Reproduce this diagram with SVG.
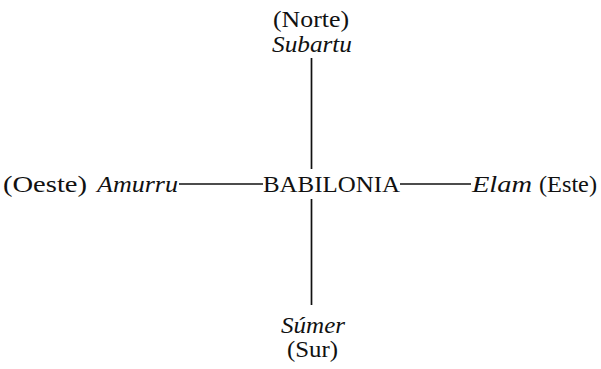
<svg xmlns="http://www.w3.org/2000/svg" width="601" height="369" viewBox="0 0 601 369">
<style>
text{font-family:"Liberation Serif","DejaVu Serif",serif;font-size:24px;fill:#111}
.it{font-style:italic}
.ln{stroke:#111;stroke-width:1.7;fill:none}
</style>
<rect width="601" height="369" fill="#fff"/>
<g id="connectors">
<line class="ln" x1="311.5" y1="58" x2="311.5" y2="169"/>
<line class="ln" x1="311.5" y1="199" x2="311.5" y2="305"/>
<line class="ln" x1="179" y1="184" x2="263" y2="184"/>
<line class="ln" x1="400" y1="184" x2="471" y2="184"/>
</g>
<g id="babilonia"><text x="263" y="192" textLength="137" lengthAdjust="spacingAndGlyphs">BABILONIA</text></g>
<g id="norte"><text x="273" y="27" textLength="76" lengthAdjust="spacingAndGlyphs">(Norte)</text><text class="it" x="272" y="52" textLength="80" lengthAdjust="spacingAndGlyphs">Subartu</text></g>
<g id="oeste"><text x="3" y="192" textLength="84" lengthAdjust="spacingAndGlyphs">(Oeste)</text><text class="it" x="97" y="192" textLength="81" lengthAdjust="spacingAndGlyphs">Amurru</text></g>
<g id="este"><text class="it" x="472" y="192" textLength="60" lengthAdjust="spacingAndGlyphs">Elam</text><text x="539" y="192" textLength="58" lengthAdjust="spacingAndGlyphs">(Este)</text></g>
<g id="sur"><text class="it" x="281" y="333" textLength="64" lengthAdjust="spacingAndGlyphs">Súmer</text><text x="287" y="357" textLength="51" lengthAdjust="spacingAndGlyphs">(Sur)</text></g>
</svg>
